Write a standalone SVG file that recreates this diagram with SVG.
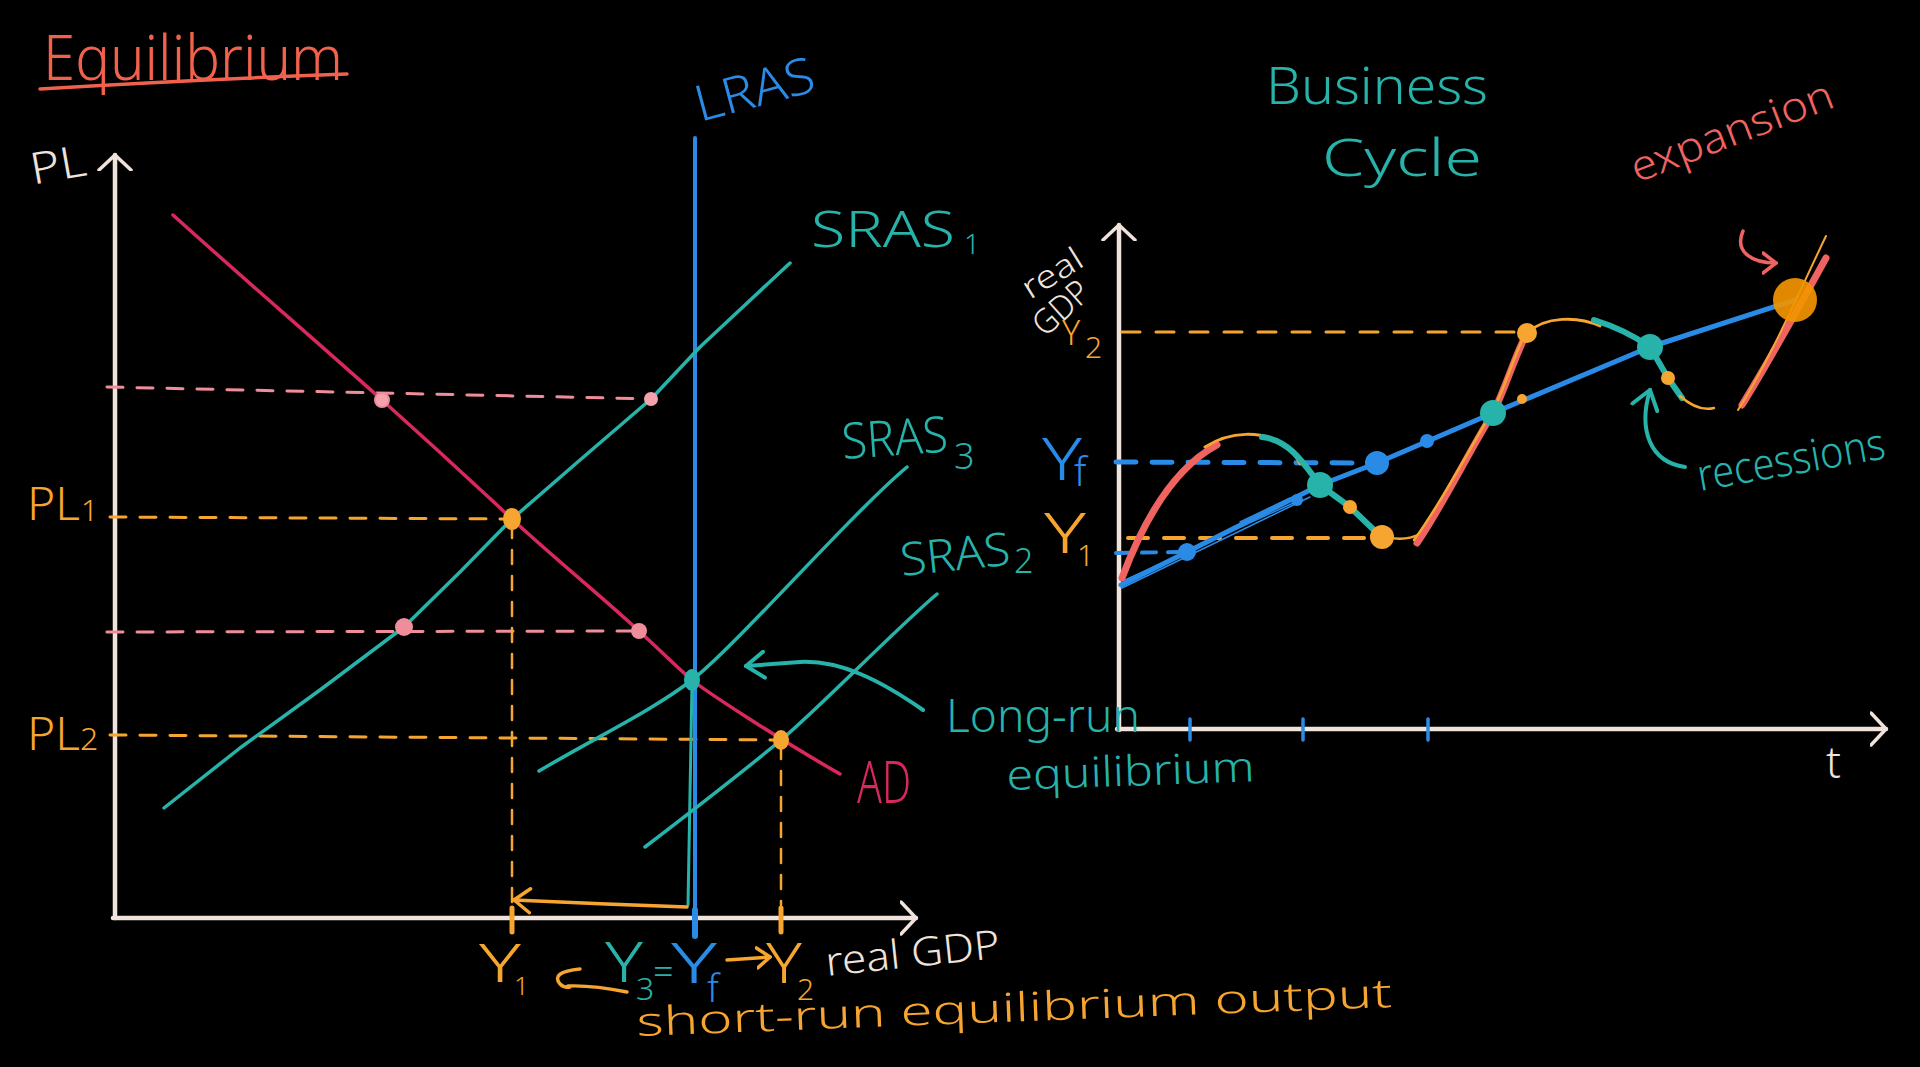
<svg xmlns="http://www.w3.org/2000/svg" width="1920" height="1067" viewBox="0 0 1920 1067">
<defs>
<style>
text{font-family:"Noto Sans","Open Sans","DejaVu Sans",sans-serif;font-weight:300}
.ln{fill:none;stroke-linecap:round;stroke-linejoin:round}
.ax{stroke:#efe3dc;stroke-width:4.5}
.teal{stroke:#27b3a9}
.blue{stroke:#2a8be6}
.org{stroke:#f7a531}
.pink{stroke:#f08d9a}
.red{stroke:#d8285c}
.sal{stroke:#ef6461}
.d{stroke-dasharray:16 14}
.tT{fill:#27b3a9}.tB{fill:#2a8be6}.tO{fill:#f7a531}.tW{fill:#efe3dc}.tR{fill:#d8285c}.tS{fill:#ef6461}
</style>
<marker id="chW" viewBox="0 0 18 36" refX="16" refY="18" markerWidth="18" markerHeight="36" markerUnits="userSpaceOnUse" orient="auto"><path d="M1,2 L16,18 L1,34" fill="none" stroke="#efe3dc" stroke-width="3.5" stroke-linecap="round"/></marker>
<marker id="chO" viewBox="0 0 20 28" refX="18" refY="14" markerWidth="20" markerHeight="28" markerUnits="userSpaceOnUse" orient="auto"><path d="M2,2 L18,14 L2,26" fill="none" stroke="#f7a531" stroke-width="3.5" stroke-linecap="round"/></marker>
<marker id="chOe" viewBox="0 0 16 24" refX="14" refY="12" markerWidth="16" markerHeight="24" markerUnits="userSpaceOnUse" orient="auto"><path d="M1,2 L14,12 L1,22" fill="none" stroke="#f7a531" stroke-width="3.5" stroke-linecap="round"/></marker>
<marker id="chT" viewBox="0 0 22 30" refX="20" refY="15" markerWidth="22" markerHeight="30" markerUnits="userSpaceOnUse" orient="auto"><path d="M2,2 L20,15 L2,28" fill="none" stroke="#27b3a9" stroke-width="4" stroke-linecap="round"/></marker>
<marker id="chS" viewBox="0 0 16 24" refX="14" refY="12" markerWidth="16" markerHeight="24" markerUnits="userSpaceOnUse" orient="auto"><path d="M1,2 L14,12 L1,22" fill="none" stroke="#ef6461" stroke-width="3.5" stroke-linecap="round"/></marker>
</defs>
<rect width="1920" height="1067" fill="#000"/>

<g id="connectors">
  <!-- left chart axes -->
  <path class="ln ax" d="M115,918 L115,155" marker-end="url(#chW)"/>
  <path class="ln ax" d="M113,918 L916,918" stroke-width="5" marker-end="url(#chW)"/>
  <!-- dashed guides -->
  <path class="ln pink d" stroke-width="3" d="M107,387 L655,399"/>
  <path class="ln pink d" stroke-width="3" d="M107,632 L643,631"/>
  <path class="ln org d" stroke-width="3" d="M110,517 L512,519"/>
  <path class="ln org d" stroke-width="3" d="M110,735 L781,740"/>
  <path class="ln org" stroke-width="2.5" stroke-dasharray="14 12" d="M512,524 L512,905"/>
  <path class="ln org" stroke-width="2.5" stroke-dasharray="14 12" d="M781,745 L781,905"/>
  <path class="ln org" stroke-width="5" d="M512,908 L512,932 M781,908 L781,932"/>
  <!-- LRAS -->
  <path class="ln blue" stroke-width="4" d="M695,138 L695,936"/>
  <path class="ln blue" stroke-width="6" d="M695,910 L695,936"/>
  <!-- AD -->
  <path class="ln red" stroke-width="3.5" d="M173,215 C245,280 315,340 382,400 S470,480 512,519 S600,595 639,631 S680,670 692,680 S780,740 840,774"/>
  <!-- SRAS1 -->
  <polyline class="ln teal" stroke-width="3.5" points="164,808 240,748 320,690 404,627 460,572 512,519 580,460 651,399 700,347 745,305 790,263"/>
  <!-- SRAS3 -->
  <path class="ln teal" stroke-width="3.5" d="M539,771 C600,735 650,712 692,680 S850,515 907,467"/>
  <!-- SRAS2 -->
  <path class="ln teal" stroke-width="3.5" d="M645,847 C700,805 745,770 781,740 S900,625 937,594"/>
  <!-- teal drop from long-run equilibrium -->
  <path class="ln teal" stroke-width="3" d="M692,684 L688,905"/>
  <!-- orange arrow to Y1 -->
  <path class="ln org" stroke-width="3.5" d="M687,907 Q600,904 514,900" marker-end="url(#chO)"/>
  <!-- long-run equilibrium pointer -->
  <path class="ln teal" stroke-width="4" d="M923,710 C880,680 840,660 800,662 L746,666" marker-end="url(#chT)"/>
  <!-- bottom arrows between Y labels -->
  <path class="ln org" stroke-width="3.5" d="M627,992 Q592,985 568,986 M580,969 Q550,972 560,984 Q564,988 570,987"/>
  <path class="ln org" stroke-width="3.5" d="M727,960 L770,957" marker-end="url(#chOe)"/>
  <!-- title underline -->
  <path class="ln" stroke="#f2614c" stroke-width="3.5" d="M40,89 Q190,80 347,74"/>

  <!-- right chart axes -->
  <path class="ln ax" d="M1119,730 L1119,225" marker-end="url(#chW)"/>
  <path class="ln ax" stroke-width="5" d="M1117,729 L1886,729" marker-end="url(#chW)"/>
  <path class="ln blue" stroke-width="3.5" d="M1190,719 L1190,740 M1303,719 L1303,740 M1428,719 L1428,740"/>
  <!-- level guides -->
  <path class="ln org" stroke-width="3" stroke-dasharray="18 16" d="M1122,332 L1520,332"/>
  <path class="ln blue" stroke-width="5" stroke-dasharray="20 16" d="M1116,462 L1368,463"/>
  <path class="ln org" stroke-width="4" stroke-dasharray="20 16" d="M1128,538 L1372,538"/>
  <path class="ln blue" stroke-width="4" stroke-dasharray="14 12" d="M1116,553 L1180,552"/>
  <!-- trend -->
  <polyline class="ln blue" stroke-width="5" points="1121,585 1187,552 1320,485 1377,463 1493,413 1650,347 1795,300"/>
  <path class="ln blue" stroke-width="1.5" d="M1122,588 L1310,497 M1125,580 L1300,500 M1240,522 L1290,498"/>
  <!-- business cycle -->
  <path class="ln sal" stroke-width="7" d="M1122,578 C1140,530 1170,470 1217,445"/>
  <path class="ln org" stroke-width="3" d="M1205,447 C1230,431 1262,430 1285,445 Q1295,453 1300,464"/>
  <path class="ln teal" stroke-width="6" d="M1262,437 C1290,440 1305,465 1320,485 L1350,507 L1374,530"/>
  <path class="ln org" stroke-width="2.5" d="M1374,532 Q1400,545 1422,533"/>
  <path class="ln sal" stroke-width="7" d="M1417,543 C1440,510 1470,450 1493,413 C1505,390 1515,355 1527,333"/>
  <path class="ln org" stroke-width="2.5" d="M1414,540 C1440,505 1470,448 1493,410 C1505,388 1515,352 1527,330"/>
  <path class="ln org" stroke-width="3" d="M1527,333 C1545,316 1578,316 1600,326"/>
  <path class="ln teal" stroke-width="6" d="M1594,320 C1620,328 1640,340 1650,347 L1668,378 L1682,398"/>
  <path class="ln org" stroke-width="2.5" d="M1680,396 Q1698,412 1714,408"/>
  <path class="ln sal" stroke-width="7" d="M1742,405 C1770,360 1800,305 1826,258"/>
  <path class="ln org" stroke-width="2" d="M1738,410 C1770,360 1800,290 1826,236"/>
  <!-- annotation arrows -->
  <path class="ln sal" stroke-width="3.5" d="M1743,231 C1734,252 1752,263 1776,263" marker-end="url(#chS)"/>
  <path class="ln teal" stroke-width="4" d="M1685,467 C1650,462 1638,430 1650,390" marker-end="url(#chT)"/>
</g>

<g id="points">
  <circle cx="382" cy="400" r="7" fill="#f4a3ad" stroke="#f08d9a" stroke-width="2"/>
  <circle cx="651" cy="399" r="7" fill="#f4a3ad"/>
  <circle cx="404" cy="627" r="9" fill="#f08d9a"/>
  <circle cx="639" cy="631" r="8" fill="#f08d9a"/>
  <ellipse cx="512" cy="519" rx="9" ry="11" fill="#f7a531"/>
  <ellipse cx="781" cy="740" rx="8" ry="10" fill="#f7a531"/>
  <ellipse cx="692" cy="680" rx="8" ry="11" fill="#27b3a9"/>
  <circle cx="1320" cy="485" r="13" fill="#27b3a9"/>
  <circle cx="1493" cy="413" r="13" fill="#27b3a9"/>
  <circle cx="1650" cy="347" r="13" fill="#27b3a9"/>
  <circle cx="1377" cy="463" r="12" fill="#2a8be6"/>
  <circle cx="1187" cy="552" r="9" fill="#2a8be6"/>
  <circle cx="1427" cy="441" r="7" fill="#2a8be6"/>
  <circle cx="1297" cy="500" r="6" fill="#2a8be6"/>
  <circle cx="1382" cy="537" r="12" fill="#f7a531"/>
  <circle cx="1350" cy="507" r="7" fill="#f7a531"/>
  <circle cx="1527" cy="333" r="10" fill="#f7a531"/>
  <circle cx="1668" cy="378" r="7" fill="#f7a531"/>
  <circle cx="1522" cy="399" r="5" fill="#f7a531"/>
  <circle cx="1795" cy="300" r="22" fill="#f29400" opacity="0.92"/>
</g>

<g id="title-equilibrium"><text style="fill:#f2614c" x="43" y="80" font-size="62" textLength="300" lengthAdjust="spacingAndGlyphs">Equilibrium</text></g>
<g id="label-pl"><text class="tW" x="30" y="180" font-size="44" textLength="56" lengthAdjust="spacingAndGlyphs" transform="rotate(-10 58 165)">PL</text></g>
<g id="label-pl1"><text class="tO" x="27" y="520" font-size="46" textLength="53" lengthAdjust="spacingAndGlyphs">PL</text><text class="tO" x="81" y="521" font-size="30">1</text></g>
<g id="label-pl2"><text class="tO" x="27" y="750" font-size="46" textLength="53" lengthAdjust="spacingAndGlyphs">PL</text><text class="tO" x="80" y="750" font-size="32">2</text></g>
<g id="label-lras"><text class="tB" x="700" y="122" font-size="50" textLength="122" lengthAdjust="spacingAndGlyphs" transform="rotate(-15 700 122)">LRAS</text></g>
<g id="label-sras1"><text class="tT" x="811" y="247" font-size="49" textLength="144" lengthAdjust="spacingAndGlyphs">SRAS</text><text class="tT" x="964" y="254" font-size="28">1</text></g>
<g id="label-sras3"><text class="tT" x="843" y="459" font-size="50" textLength="106" lengthAdjust="spacingAndGlyphs" transform="rotate(-4 843 459)">SRAS</text><text class="tT" x="954" y="469" font-size="36">3</text></g>
<g id="label-sras2"><text class="tT" x="902" y="576" font-size="46" textLength="110" lengthAdjust="spacingAndGlyphs" transform="rotate(-6 902 576)">SRAS</text><text class="tT" x="1014" y="573" font-size="34">2</text></g>
<g id="label-ad"><text class="tR" x="857" y="803" font-size="58" textLength="54" lengthAdjust="spacingAndGlyphs">AD</text></g>
<g id="label-long-run"><text class="tT" x="946" y="732" font-size="45" textLength="194" lengthAdjust="spacingAndGlyphs">Long-run</text><text class="tT" x="1007" y="790" font-size="42" textLength="248" lengthAdjust="spacingAndGlyphs" transform="rotate(-2 1007 790)">equilibrium</text></g>
<g id="label-y1"><text class="tO" x="479" y="982" font-size="54" textLength="42" lengthAdjust="spacingAndGlyphs">Y</text><text class="tO" x="514" y="995" font-size="26">1</text></g>
<g id="label-y3"><text class="tT" x="605" y="982" font-size="56" textLength="38" lengthAdjust="spacingAndGlyphs">Y</text><text class="tT" x="636" y="1000" font-size="32">3</text><text class="tT" x="653" y="984" font-size="36">=</text></g>
<g id="label-yf"><text class="tB" x="671" y="983" font-size="56" textLength="46" lengthAdjust="spacingAndGlyphs">Y</text><text class="tB" x="707" y="1002" font-size="38">f</text></g>
<g id="label-y2"><text class="tO" x="766" y="983" font-size="56" textLength="36" lengthAdjust="spacingAndGlyphs">Y</text><text class="tO" x="797" y="1000" font-size="30">2</text></g>
<g id="label-real-gdp"><text class="tW" x="827" y="976" font-size="40" textLength="175" lengthAdjust="spacingAndGlyphs" transform="rotate(-6 827 976)">real GDP</text></g>
<g id="label-short-run"><text class="tO" x="637" y="1036" font-size="40" textLength="756" lengthAdjust="spacingAndGlyphs" transform="rotate(-2.2 637 1036)">short-run equilibrium output</text></g>

<g id="title-business-cycle"><text class="tT" x="1266" y="104" font-size="52" textLength="222" lengthAdjust="spacingAndGlyphs">Business</text><text class="tT" x="1322" y="176" font-size="52" textLength="160" lengthAdjust="spacingAndGlyphs">Cycle</text></g>
<g id="label-expansion"><text class="tS" x="1637" y="183" font-size="42" textLength="214" lengthAdjust="spacingAndGlyphs" transform="rotate(-21 1637 183)">expansion</text></g>
<g id="label-recessions"><text class="tT" x="1700" y="491" font-size="44" textLength="190" lengthAdjust="spacingAndGlyphs" transform="rotate(-10 1700 491)">recessions</text></g>
<g id="label-real-gdp-axis"><text class="tW" x="1030" y="300" font-size="32" textLength="66" lengthAdjust="spacingAndGlyphs" transform="rotate(-32 1030 300)">real</text><text class="tW" x="1045" y="338" font-size="34" textLength="64" lengthAdjust="spacingAndGlyphs" transform="rotate(-42 1045 338)">GDP</text></g>
<g id="label-y2-axis"><text class="tO" x="1062" y="345" font-size="34">Y</text><text class="tO" x="1085" y="358" font-size="30">2</text></g>
<g id="label-yf-axis"><text class="tB" x="1042" y="480" font-size="58" textLength="40" lengthAdjust="spacingAndGlyphs">Y</text><text class="tB" x="1074" y="486" font-size="40">f</text></g>
<g id="label-y1-axis"><text class="tO" x="1044" y="553" font-size="56" textLength="42" lengthAdjust="spacingAndGlyphs">Y</text><text class="tO" x="1077" y="566" font-size="30">1</text></g>
<g id="label-t"><text class="tW" x="1826" y="778" font-size="44">t</text></g>
</svg>
